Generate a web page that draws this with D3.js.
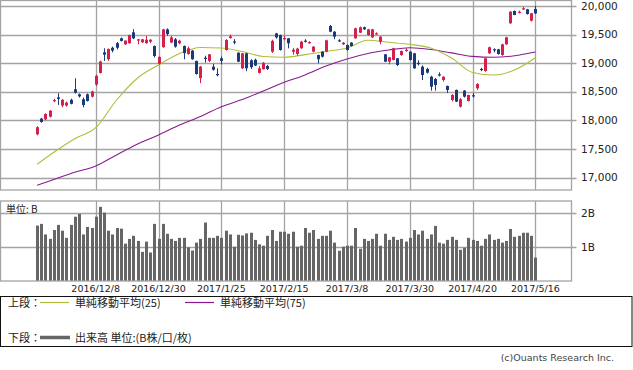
<!DOCTYPE html>
<html><head><meta charset="utf-8">
<script src="https://cdn.jsdelivr.net/npm/d3@7/dist/d3.min.js"></script>
<style>
html,body{margin:0;padding:0;background:#fff;}
svg{display:block;}
text{font-family:"DejaVu Sans",sans-serif;}
.jp{font-family:"Noto Sans CJK JP","DejaVu Sans",sans-serif;}
</style></head>
<body><svg id="c" width="633" height="370"></svg>
<script>
const dates = [
"2016/11/17","2016/11/18","2016/11/21","2016/11/22","2016/11/24","2016/11/25","2016/11/28","2016/11/29","2016/11/30",
"2016/12/1","2016/12/2","2016/12/5","2016/12/6","2016/12/7","2016/12/8","2016/12/9","2016/12/12","2016/12/13","2016/12/14","2016/12/15","2016/12/16","2016/12/19","2016/12/20","2016/12/21","2016/12/22","2016/12/26","2016/12/27","2016/12/28","2016/12/29","2016/12/30",
"2017/1/4","2017/1/5","2017/1/6","2017/1/10","2017/1/11","2017/1/12","2017/1/13","2017/1/16","2017/1/17","2017/1/18","2017/1/19","2017/1/20","2017/1/23","2017/1/24","2017/1/25","2017/1/26","2017/1/27","2017/1/30","2017/1/31",
"2017/2/1","2017/2/2","2017/2/3","2017/2/6","2017/2/7","2017/2/8","2017/2/9","2017/2/10","2017/2/13","2017/2/14","2017/2/15","2017/2/16","2017/2/17","2017/2/20","2017/2/21","2017/2/22","2017/2/23","2017/2/24","2017/2/27","2017/2/28",
"2017/3/1","2017/3/2","2017/3/3","2017/3/6","2017/3/7","2017/3/8","2017/3/9","2017/3/10","2017/3/13","2017/3/14","2017/3/15","2017/3/16","2017/3/17","2017/3/21","2017/3/22","2017/3/23","2017/3/24","2017/3/27","2017/3/28","2017/3/29","2017/3/30","2017/3/31",
"2017/4/3","2017/4/4","2017/4/5","2017/4/6","2017/4/7","2017/4/10","2017/4/11","2017/4/12","2017/4/13","2017/4/14","2017/4/17","2017/4/18","2017/4/19","2017/4/20","2017/4/21","2017/4/24","2017/4/25","2017/4/26","2017/4/27","2017/4/28",
"2017/5/1","2017/5/2","2017/5/8","2017/5/9","2017/5/10","2017/5/11","2017/5/12","2017/5/15","2017/5/16"];

const openP = [17757,18030,18019,18065,18340,18402,18260,18260,18360,18544,
18456,18369,18456,18415,18625,18830,19190,19070,19270,19350,
19435,19330,19350,19540,19395,19365,19350,19376,19300,18990,
19280,19590,19360,19418,19348,19300,19160,19220,19039,18740,
19095,19040,18940,18811,19086,19231,19440,19380,19184,18911,
19173,19050,19060,18830,18895,18950,19200,19520,19493,19420,
19435,19200,19160,19261,19395,19350,19202,19143,19202,19202,
19650,19551,19400,19330,19318,19359,19435,19534,19628,19493,
19452,19515,19376,19155,19027,19056,19086,19143,19225,19202,
19173,19005,18940,18899,18764,18724,18805,18706,18601,18357,
18532,18240,18520,18339,18440,18561,18900,18864,19173,19245,
19243,19143,19330,19697,19913,19890,19950,19942,19743,19948];

const highP = [17900,18045,18125,18180,18380,18474,18375,18330,18380,18736,
18470,18400,18470,18520,18800,19044,19260,19255,19290,19370,
19450,19400,19500,19595,19425,19425,19475,19420,19310,19120,
19600,19610,19476,19440,19410,19310,19290,19230,19045,18950,
19130,19160,18990,18910,19120,19420,19500,19420,19190,19180,
19180,19070,19080,18950,19020,18970,19410,19530,19500,19480,
19440,19265,19270,19390,19420,19385,19300,19150,19210,19410,
19668,19560,19420,19370,19330,19370,19620,19640,19640,19600,
19600,19540,19470,19160,19110,19270,19090,19220,19260,19210,
19180,19050,18960,18920,18780,18740,18840,18770,18610,18460,
18540,18390,18530,18450,18480,18650,18920,19090,19290,19260,
19250,19340,19460,19910,19920,19920,19985,19950,19880,20000];

const lowP = [17740,17960,18005,18050,18320,18270,18230,18240,18280,18470,
18400,18229,18330,18400,18600,18820,19040,19040,19190,19240,
19380,19320,19340,19420,19330,19355,19340,19350,19100,18975,
19270,19480,19350,19270,19330,19068,19150,19060,18800,18650,
19010,19020,18870,18770,18980,19220,19430,19330,19020,18900,
18860,18900,18950,18820,18890,18880,19180,19430,19220,19400,
19260,19150,19130,19250,19360,19340,19190,19000,19100,19190,
19540,19420,19370,19320,19220,19290,19430,19525,19580,19480,
19440,19500,19330,19020,18980,19050,18950,19130,19200,19050,
18900,18960,18706,18820,18520,18520,18770,18680,18480,18330,
18320,18225,18400,18330,18400,18530,18860,18850,19160,19190,
19150,19130,19320,19690,19840,19870,19930,19850,19730,19860];

const closeP = [17880,17972,18112,18170,18355,18375,18360,18310,18290,18485,
18420,18270,18340,18505,18780,19030,19150,19250,19220,19270,
19390,19395,19490,19435,19418,19418,19410,19410,19126,19110,
19592,19510,19450,19290,19393,19175,19260,19070,18811,18940,
19080,19155,18885,18790,19040,19406,19470,19365,19027,19173,
18911,18930,18960,18910,19005,18900,19390,19450,19231,19440,
19348,19235,19255,19376,19375,19370,19289,19070,19114,19400,
19551,19464,19390,19359,19231,19301,19610,19628,19592,19592,
19592,19522,19464,19027,19103,19261,18969,19213,19235,19056,
18911,18990,18794,18835,18589,18619,18790,18764,18532,18444,
18328,18370,18415,18444,18430,18637,18885,19086,19278,19230,
19161,19330,19452,19900,19843,19900,19960,19860,19872,19870];

const volumeB = [1.64,1.69,1.38,1.25,1.51,1.66,1.49,1.28,1.66,1.90,
1.98,1.38,1.60,1.57,1.90,2.19,2.02,1.49,1.38,1.57,
1.55,1.11,1.25,1.34,1.19,0.87,1.17,0.85,1.69,1.25,
1.69,1.40,1.25,1.19,1.28,1.28,1.00,0.91,1.14,1.25,
1.73,1.28,1.28,1.34,1.28,1.49,1.38,1.02,1.37,1.35,
1.41,1.43,1.22,1.09,1.05,1.34,1.51,1.19,1.46,1.46,
1.40,1.46,1.02,1.05,1.57,1.43,1.51,1.25,1.34,1.34,
1.49,1.14,0.90,1.02,1.05,1.05,1.57,0.96,1.25,1.19,
1.25,1.40,1.05,1.40,1.22,1.31,1.22,1.25,1.17,1.28,
1.51,1.38,1.49,1.25,1.38,1.63,1.14,1.11,1.22,1.31,
1.22,0.93,0.99,1.28,1.22,1.19,1.05,1.25,1.38,1.22,
1.25,1.14,1.19,1.54,1.31,1.34,1.43,1.43,1.34,0.70];

// moving averages, at these bar numbers (1-based)
const maDays = [1,5,10,15,20,25,30,35,40,45,50,55,60,65,70,75,80,85,90,95,100,105,110,115,120];
const ma25 = [17233,17443,17680,17873,18357,18741,18969,19170,19275,19266,19205,19117,19103,19150,19205,19265,19400,19365,19330,19266,19090,18838,18794,18881,19096];
const ma75 = [16866,16967,17093,17203,17396,17588,17745,17920,18068,18240,18365,18514,18666,18795,18951,19075,19170,19231,19270,19240,19180,19120,19105,19130,19195];

const priceTicks = [17000,17500,18000,18500,19000,19500,20000];
const volTicks = [1,2];
const volTickLabels = ["1B","2B"];
const dateTicks = ["2016/12/8","2016/12/30","2017/1/25","2017/2/15","2017/3/8","2017/3/30","2017/4/20","2017/5/16"];

const svg = d3.select("#c");
const W = 633, H = 370;
svg.append("rect").attr("width",W).attr("height",H).attr("fill","#fff");

const plotL = 0.5, plotR = 571.5;
const top1 = 0.5, bot1 = 190;
const top2 = 201, bot2 = 281;
const grid = "#a3a3a3";

const x = d3.scaleLinear().domain([1,120]).range([37.1,535.4]);
const y = d3.scaleLinear().domain([17000,20000]).range([177.6,6]);
const yv = d3.scaleLinear().domain([0,2]).range([281.5,213.3]);

const idx = d => dates.indexOf(d) + 1;

// ---- top panel ----
const g1 = svg.append("g");
g1.selectAll(".hg").data(priceTicks).join("line")
  .attr("x1",plotL).attr("x2",plotR+5)
  .attr("y1",d=>Math.round(y(d))+0.5).attr("y2",d=>Math.round(y(d))+0.5)
  .attr("stroke",grid).attr("stroke-width",1.3);
g1.selectAll(".vg").data(dateTicks).join("line")
  .attr("x1",d=>Math.round(x(idx(d)))+0.5).attr("x2",d=>Math.round(x(idx(d)))+0.5)
  .attr("y1",top1).attr("y2",bot1)
  .attr("stroke",grid).attr("stroke-width",1.3);
g1.append("rect").attr("x",plotL).attr("y",top1).attr("width",plotR-plotL).attr("height",bot1-top1)
  .attr("fill","none").attr("stroke",grid).attr("stroke-width",1.3);
g1.selectAll(".yl").data(priceTicks).join("text")
  .attr("x",581).attr("y",d=>y(d)).attr("dy","0.35em")
  .attr("font-size",10.5).attr("fill","#222")
  .text(d=>d3.format(",")(d));

// MA lines
const line = d3.line().x((d,i)=>x(maDays[i])).y(d=>y(d)).curve(d3.curveMonotoneX);
g1.append("path").attr("d",line(ma75)).attr("fill","none").attr("stroke","#8a1a8e").attr("stroke-width",1.1);
g1.append("path").attr("d",line(ma25)).attr("fill","none").attr("stroke","#b3bb3a").attr("stroke-width",1.1);

// candles
const up = "#d3214e", dn = "#1b3a7c";
const cand = g1.selectAll(".cd").data(dates).join("g");
cand.append("line")
  .attr("x1",(d,i)=>Math.round(x(i+1))+0.5).attr("x2",(d,i)=>Math.round(x(i+1))+0.5)
  .attr("y1",(d,i)=>y(highP[i])).attr("y2",(d,i)=>y(lowP[i]))
  .attr("stroke",(d,i)=>closeP[i]>=openP[i]?up:dn).attr("stroke-width",1);
cand.append("rect")
  .attr("x",(d,i)=>Math.round(x(i+1))-1)
  .attr("width",3)
  .attr("y",(d,i)=>y(Math.max(openP[i],closeP[i])))
  .attr("height",(d,i)=>Math.max(1.2,Math.abs(y(openP[i])-y(closeP[i]))))
  .attr("fill",(d,i)=>closeP[i]>=openP[i]?up:dn);

// ---- volume panel ----
const g2 = svg.append("g");
g2.selectAll(".vh").data(volTicks).join("line")
  .attr("x1",plotL).attr("x2",plotR+5)
  .attr("y1",d=>Math.round(yv(d))+0.5).attr("y2",d=>Math.round(yv(d))+0.5)
  .attr("stroke",grid).attr("stroke-width",1.3);
g2.selectAll(".vv").data(dateTicks).join("line")
  .attr("x1",d=>Math.round(x(idx(d)))+0.5).attr("x2",d=>Math.round(x(idx(d)))+0.5)
  .attr("y1",top2).attr("y2",bot2)
  .attr("stroke",grid).attr("stroke-width",1.3);
g2.selectAll(".vb").data(volumeB).join("rect")
  .attr("x",(d,i)=>Math.round(x(i+1))-1).attr("width",3)
  .attr("y",d=>yv(d)).attr("height",d=>bot2-yv(d))
  .attr("fill","#666");
g2.append("rect").attr("x",plotL).attr("y",top2).attr("width",plotR-plotL).attr("height",bot2-top2)
  .attr("fill","none").attr("stroke",grid).attr("stroke-width",1.3);
g2.selectAll(".vl").data(volTicks).join("text")
  .attr("x",581).attr("y",d=>yv(d)).attr("dy","0.35em")
  .attr("font-size",10.5).attr("fill","#222")
  .text((d,i)=>volTickLabels[i]);
g2.append("text").attr("class","jp").attr("x",6).attr("y",213)
  .attr("font-size",10).attr("fill","#222").text("単位: B");

// date labels
svg.selectAll(".dl").data(dateTicks).join("text")
  .attr("x",d=>x(idx(d))).attr("y",292).attr("text-anchor","middle")
  .attr("font-size",9.5).attr("fill","#222").text(d=>d);

// ---- legend ----
const lg = svg.append("g");
lg.append("rect").attr("x",0.5).attr("y",296.5).attr("width",631.5).attr("height",50)
  .attr("fill","none").attr("stroke","#111").attr("stroke-width",1);
lg.append("text").attr("class","jp").attr("x",8).attr("y",306.5).attr("font-size",11).attr("fill","#222").text("上段：");
lg.append("line").attr("x1",40).attr("x2",69).attr("y1",302.5).attr("y2",302.5).attr("stroke","#b3bb3a").attr("stroke-width",1.2);
lg.append("text").attr("class","jp").attr("x",75).attr("y",306.5).attr("font-size",11).attr("fill","#222").text("単純移動平均(25)");
lg.append("line").attr("x1",185).attr("x2",214).attr("y1",302.5).attr("y2",302.5).attr("stroke","#8a1a8e").attr("stroke-width",1.2);
lg.append("text").attr("class","jp").attr("x",220).attr("y",306.5).attr("font-size",11).attr("fill","#222").text("単純移動平均(75)");
lg.append("text").attr("class","jp").attr("x",8).attr("y",341.5).attr("font-size",11).attr("fill","#222").text("下段：");
lg.append("line").attr("x1",40).attr("x2",70).attr("y1",337.5).attr("y2",337.5).attr("stroke","#666").attr("stroke-width",3.5);
lg.append("text").attr("class","jp").attr("x",75).attr("y",341.5).attr("font-size",11).attr("fill","#222").text("出来高 単位:(B株/口/枚)");

svg.append("text").attr("x",614).attr("y",361).attr("text-anchor","end")
  .attr("font-size",9.5).attr("fill","#444").text("(c)Ouants Research Inc.");
</script>
</body></html>
